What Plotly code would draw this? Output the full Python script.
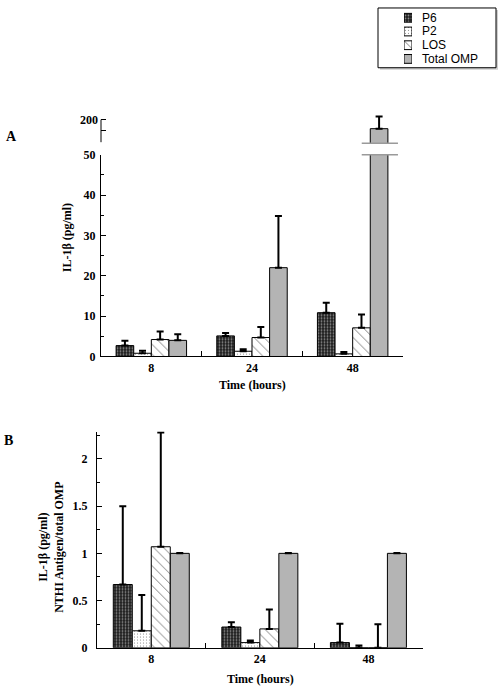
import plotly.graph_objects as go

# ---------------- data ----------------
times = ["8", "24", "48"]
series = ["P6", "P2", "LOS", "Total OMP"]

# Panel A: IL-1beta (pg/ml)
a_p6 = [2.7, 5.1, 10.85]
a_p2 = [0.8, 1.3, 0.65]
a_los = [4.2, 4.7, 7.1]
a_omp = [4.0, 22.0, 180.0]
a_p6_err = [1.2, 0.7, 2.45]
a_p2_err = [0.65, 0.5, 0.45]
a_los_err = [2.0, 2.6, 3.3]
a_omp_err = [1.5, 12.8, 27.0]

# Panel B: ratio NTHI antigen / total OMP
b_p6 = [0.67, 0.22, 0.055]
b_p2 = [0.18, 0.055, 0.0]
b_los = [1.07, 0.20, 0.0]
b_omp = [1.0, 1.0, 1.0]
b_p6_err = [0.83, 0.05, 0.2]
b_p2_err = [0.38, 0.021, 0.025]
b_los_err = [1.21, 0.205, 0.25]
b_omp_err = [0.005, 0.005, 0.005]

a_vals = [a_p6, a_p2, a_los, a_omp]
a_errs = [a_p6_err, a_p2_err, a_los_err, a_omp_err]
b_vals = [b_p6, b_p2, b_los, b_omp]
b_errs = [b_p6_err, b_p2_err, b_los_err, b_omp_err]

# ---------------- styles ----------------
styles = [
    dict(color="#1c1c1c", pattern=dict(shape=".", bgcolor="#1c1c1c", fgcolor="white", size=3, solidity=0.3)),
    dict(color="white", pattern=dict(shape=".", bgcolor="white", fgcolor="black", size=3, solidity=0.12)),
    dict(color="white", pattern=dict(shape="\\", bgcolor="white", fgcolor="black", size=7, solidity=0.14)),
    dict(color="#b4b4b4", pattern=dict(shape="")),
]

W, H = 500, 693
def px_x(p):
    return p / W
def px_y(p):
    return (H - p) / H

SERIF = "Liberation Serif"
SANS = "Liberation Sans"
tickfont = dict(family=SERIF, size=12, color="black", weight="bold")

fig = go.Figure()

def add_bars(xa, ya, vals, errs):
    for name, v, e, st in zip(series, vals, errs, styles):
        fig.add_trace(go.Bar(
            x=times, y=v, name=name, xaxis=xa, yaxis=ya, showlegend=False,
            marker=dict(color=st["color"], pattern=st["pattern"],
                        line=dict(color="black", width=1)),
            error_y=dict(type="data", array=e, arrayminus=[0] * len(e), symmetric=False,
                         color="black", thickness=2, width=3.5),
        ))

add_bars("x", "y", a_vals, a_errs)
add_bars("x2", "y2", a_vals, a_errs)
add_bars("x3", "y3", b_vals, b_errs)

# legend swatches (one tiny subplot)
for name, st in zip(series, styles):
    fig.add_trace(go.Bar(
        y=[name], x=[1], orientation="h", xaxis="x4", yaxis="y4", showlegend=False,
        offset=-0.32, width=0.64,
        marker=dict(color=st["color"], pattern=st["pattern"], line=dict(color="black", width=1)),
        hoverinfo="skip",
    ))

xa_dom = [px_x(101), px_x(403)]
xb_dom = [px_x(97), px_x(422.7)]

common_x = dict(type="category", categoryorder="array", categoryarray=times,
                range=[-0.5, 2.5], showline=True, linecolor="black", linewidth=1,
                ticks="inside", tickson="boundaries", ticklen=5, tickcolor="black",
                tickfont=tickfont, showgrid=False, zeroline=False)

fig.update_layout(
    width=W, height=H,
    margin=dict(l=0, r=0, t=0, b=0),
    paper_bgcolor="white", plot_bgcolor="rgba(0,0,0,0)",
    barmode="group", bargap=0.3, bargroupgap=0,
    showlegend=False,
    xaxis=dict(domain=xa_dom, anchor="y", **common_x),
    yaxis=dict(domain=[px_y(356.7), px_y(150.7)], anchor="x", range=[0, 50],
               tickmode="linear", tick0=0, dtick=10,
               showline=True, linecolor="black", linewidth=1,
               ticks="inside", ticklen=5, tickcolor="black",
               minor=dict(ticks="inside", ticklen=3, dtick=5, tickcolor="black"),
               tickfont=tickfont, ticklabelstandoff=2, showgrid=False, zeroline=False),
    xaxis2=dict(domain=xa_dom, anchor="y2", matches="x", type="category",
                categoryorder="array", categoryarray=times,
                visible=False, showgrid=False, zeroline=False),
    yaxis2=dict(domain=[px_y(139), px_y(108)], anchor="x2", range=[147.8, 215.2],
                tickmode="array", tickvals=[150, 175, 200], ticktext=["", "", "200"],
                showline=False, ticks="inside", ticklen=5, tickcolor="black",
                tickfont=tickfont, ticklabelstandoff=2, showgrid=False, zeroline=False),
    xaxis3=dict(domain=xb_dom, anchor="y3", **common_x),
    yaxis3=dict(domain=[px_y(654), px_y(433.3)], anchor="x3", range=[0, 2.29],
                tickmode="linear", tick0=0, dtick=0.5,
                showline=True, linecolor="black", linewidth=1,
                ticks="inside", ticklen=5, tickcolor="black",
                minor=dict(ticks="inside", ticklen=3, dtick=0.25, tickcolor="black"),
                tickfont=tickfont, ticklabelstandoff=6, showgrid=False, zeroline=False),
    xaxis4=dict(domain=[px_x(404), px_x(412)], anchor="y4", range=[0, 1], visible=False),
    yaxis4=dict(domain=[px_y(60), px_y(4)], anchor="x4", type="category",
                categoryorder="array", categoryarray=series, autorange="reversed",
                visible=False),
)

# axis line of the broken upper segment, break marks
fig.add_shape(type="line", xref="x domain", x0=0, x1=0, yref="y2", y0=150, y1=200,
              line=dict(color="black", width=1))
fig.add_shape(type="line", xref="x", x0=2.09, x1=2.45, yref="y2 domain", y0=0, y1=0,
              line=dict(color="#9a9a9a", width=1.5))
fig.add_shape(type="line", xref="x", x0=2.09, x1=2.45, yref="y domain", y0=1, y1=1,
              line=dict(color="#9a9a9a", width=1.5))

# legend box (shadow + frame)
fig.add_shape(type="rect", xref="paper", yref="paper",
              x0=px_x(380), x1=px_x(498), y0=px_y(64), y1=px_y(3),
              line=dict(width=0), fillcolor="#cfcfcf", layer="below")
fig.add_shape(type="rect", xref="paper", yref="paper",
              x0=px_x(378), x1=px_x(496), y0=px_y(62), y1=px_y(1),
              line=dict(color="black", width=1), fillcolor="white", layer="below")

annotations = []
for i, name in enumerate(series):
    annotations.append(dict(text=name, xref="paper", yref="paper",
                            x=px_x(421), y=px_y(11 + 14 * i), xanchor="left", yanchor="middle",
                            showarrow=False, borderpad=0,
                            font=dict(family=SANS, size=12, color="black")))

bold = dict(family=SERIF, size=12, color="black", weight="bold")
annotations += [
    dict(text="A", x=px_x(4), y=px_y(132), xanchor="left", yanchor="middle",
         font=dict(family=SERIF, size=14, color="black", weight="bold")),
    dict(text="B", x=px_x(2), y=px_y(442), xanchor="left", yanchor="middle",
         font=dict(family=SERIF, size=14, color="black", weight="bold")),
    dict(text="IL-1β (pg/ml)", x=px_x(67), y=px_y(236), textangle=-90,
         xanchor="center", yanchor="middle", font=bold),
    dict(text="Time (hours)", x=px_x(252), y=px_y(386), xanchor="center", yanchor="middle", font=bold),
    dict(text="IL-1β (pg/ml)<br>NTHI Antigen/total OMP", x=px_x(51), y=px_y(552), textangle=-90,
         xanchor="center", yanchor="middle", font=bold),
    dict(text="Time (hours)", x=px_x(260), y=px_y(686), xanchor="center", yanchor="middle", font=bold),
]
for a in annotations[len(series):]:
    a.update(xref="paper", yref="paper", showarrow=False)
fig.update_layout(annotations=annotations)

fig.write_html("out.html", config={"displayModeBar": False},
               post_script="document.body.style.margin='0';document.body.style.padding='0';")
